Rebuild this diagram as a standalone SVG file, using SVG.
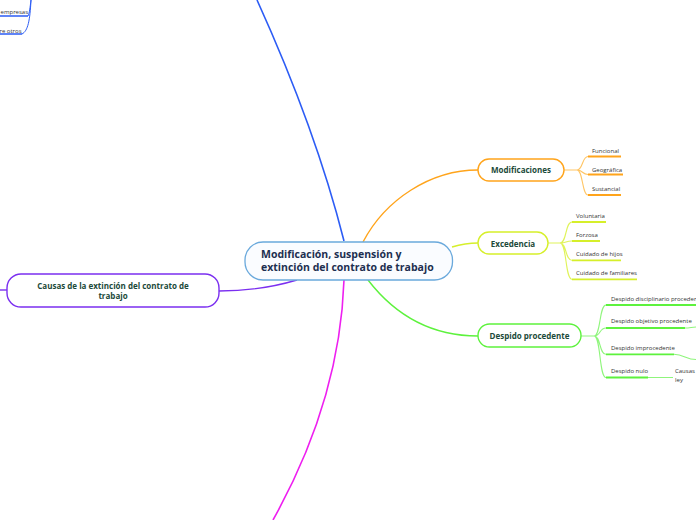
<svg xmlns="http://www.w3.org/2000/svg" width="696" height="520" viewBox="0 0 696 520">
<style>
text{font-family:"Open Sans","DejaVu Sans",sans-serif}
.main{font-size:10.5px;font-weight:bold;fill:#1d2f50}
.br{font-size:8px;font-weight:bold;fill:#1c4a3a}
.leaf{font-size:6px;fill:#333}
.c{fill:none}
.or{stroke:#ffa41b}
.orl{stroke:#ffc565}
.ye{stroke:#d6ef2a}
.yel{stroke:#e0f35a}
.gr{stroke:#5df23d}
.grl{stroke:#8ff57c}
</style>
<rect width="696" height="520" fill="#ffffff"/>
<g id="connectors" fill="none">
<path d="M344,241 Q316,130 257,0" stroke="#2c5cf5" stroke-width="1.6"/>
<path d="M344,280 Q340,400 273,520" stroke="#ee1ff0" stroke-width="1.6"/>
<path d="M363,242 C385,200 430,170 478,170" stroke="#ffa41b" stroke-width="1.4"/>
<path d="M452,247 C462,244 468,243 478,243" stroke="#d6ef2a" stroke-width="1.4"/>
<path d="M368,280 C395,315 430,336 478,336" stroke="#5df23d" stroke-width="1.4"/>
<path d="M297,280 Q260,291 219,291" stroke="#7b2ff0" stroke-width="1.4"/>
<path d="M0,290 L7,290" stroke="#7b2ff0" stroke-width="1.4"/>
<path d="M31,0 C30,8 29.5,13 28,16" stroke="#2c5cf5" stroke-width="1"/>
<path d="M31,0 C30,20 28,31 22,34" stroke="#2c5cf5" stroke-width="1"/>
<path d="M0,16 L28,16 M0,34 L22,34" stroke="#2c5cf5" stroke-width="1.4"/>
<path class="orl" stroke-width="1.1" d="M564,170 L577,170 M577,170 C583,170 582,156.5 588,156.5 M577,170 C583,170 582,174.5 588,174.5 M577,170 C583,170 582,195 588,195"/>
<path class="or" stroke-width="1.8" d="M588,156.5 L621,156.5 M588,174.5 L623,174.5 M588,195 L621,195"/>
<path class="yel" stroke-width="1.1" d="M548,243 L560,243 M560,243 C567,243 565,222 572,222 M560,243 C567,243 565,241 572,241 M560,243 C567,243 565,260.3 572,260.3 M560,243 C567,243 565,279.3 572,279.3"/>
<path class="ye" stroke-width="1.8" d="M572,222 L606,222 M572,241 L600,241 M572,260.3 L621,260.3 M572,279.3 L637,279.3"/>
<path class="grl" stroke-width="1.1" d="M581,336 L594,336 M594,336 C601,336 599,305 606,305 M594,336 C601,336 599,328 606,328 M594,336 C601,336 599,354.3 606,354.3 M594,336 C601,336 599,377.5 606,377.5 M685,328 C690,328 692,327 696,327 M674,354.3 C684,354.3 686,359.5 696,359.5 M648,377.5 L673,377.5"/>
<path class="gr" stroke-width="1.8" d="M606,305 L696,305 M606,328 L685,328 M606,354.3 L674,354.3 M606,377.5 L648,377.5"/>
</g>
<g id="center">
<rect x="245" y="242" width="207.5" height="38" rx="18" fill="#fafcff" stroke="#6aa9dc" stroke-width="1.3"/>
<text class="main" x="261" y="257.5">Modificación, suspensión y</text>
<text class="main" x="261" y="271">extinción del contrato de trabajo</text>
</g>
<g id="modificaciones">
<rect x="478" y="159" width="86" height="22" rx="11" fill="#fff" stroke="#ffa41b" stroke-width="1.4"/>
<text class="br" x="521" y="173" text-anchor="middle">Modificaciones</text>
</g>
<g id="mod-leaves">
<text class="leaf" x="592" y="152.7">Funcional</text>
<text class="leaf" x="592" y="171.5">Geográfica</text>
<text class="leaf" x="592" y="191">Sustancial</text>
</g>
<g id="excedencia">
<rect x="478" y="232" width="70" height="22" rx="11" fill="#fff" stroke="#d6ef2a" stroke-width="1.4"/>
<text class="br" x="513" y="246.5" text-anchor="middle">Excedencia</text>
</g>
<g id="exc-leaves">
<text class="leaf" x="576" y="217.7">Voluntaria</text>
<text class="leaf" x="576" y="236.7">Forzosa</text>
<text class="leaf" x="576" y="256">Cuidado de hijos</text>
<text class="leaf" x="576" y="275">Cuidado de familiares</text>
</g>
<g id="despido">
<rect x="478" y="324" width="103" height="23" rx="11.5" fill="#fff" stroke="#5df23d" stroke-width="1.4"/>
<text class="br" x="529.5" y="338.5" text-anchor="middle">Despido procedente</text>
</g>
<g id="desp-leaves">
<text class="leaf" x="611" y="301">Despido disciplinario proceder</text>
<text class="leaf" x="611" y="323.3">Despido objetivo procedente</text>
<text class="leaf" x="611" y="350.3">Despido improcedente</text>
<text class="leaf" x="611" y="372.7">Despido nulo</text>
<text class="leaf" x="675" y="372.7">Causas</text>
<text class="leaf" x="675" y="381.7">ley</text>
</g>
<g id="causas">
<rect x="7" y="274" width="212" height="33" rx="14" fill="#fff" stroke="#7b2ff0" stroke-width="1.4"/>
<text class="br" x="113" y="288.5" text-anchor="middle">Causas de la extinción del contrato de</text>
<text class="br" x="113" y="299" text-anchor="middle">trabajo</text>
</g>
<g id="top-left">
<text class="leaf" x="28" y="13.5" text-anchor="end">empresas</text>
<text class="leaf" x="21.5" y="32.5" text-anchor="end">re otros</text>
</g>
</svg>
